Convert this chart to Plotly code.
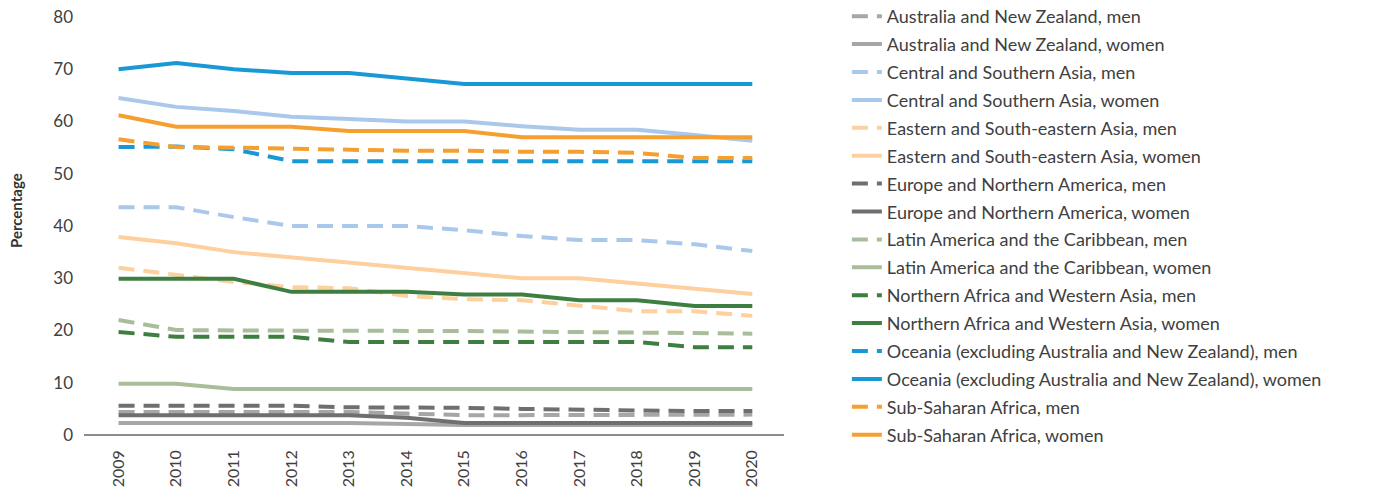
import plotly.graph_objects as go

years = list(range(2009, 2021))

# values (percentage)
aus_nz_men = [4.4, 4.4, 4.4, 4.4, 4.4, 4.1, 3.8, 3.8, 3.8, 3.8, 3.8, 3.9]
aus_nz_women = [2.3, 2.3, 2.3, 2.3, 2.3, 2.1, 1.9, 1.9, 1.9, 1.9, 1.9, 1.9]
csa_men = [43.6, 43.6, 41.7, 40.0, 40.0, 40.0, 39.2, 38.1, 37.3, 37.3, 36.5, 35.2]
csa_women = [64.5, 62.8, 62.0, 60.9, 60.5, 60.0, 60.0, 59.1, 58.4, 58.4, 57.4, 56.3]
esea_men = [32.0, 30.6, 29.3, 28.3, 28.1, 26.6, 26.0, 25.8, 24.7, 23.7, 23.7, 22.8]
esea_women = [37.9, 36.7, 35.0, 34.0, 33.1, 32.1, 31.1, 30.0, 30.0, 29.0, 28.1, 27.0]
euna_men = [5.6, 5.6, 5.6, 5.6, 5.3, 5.3, 5.2, 5.0, 4.8, 4.7, 4.6, 4.6]
euna_women = [3.8, 3.8, 3.8, 3.8, 3.8, 3.3, 2.3, 2.3, 2.3, 2.3, 2.3, 2.3]
lac_men = [22.0, 20.1, 20.0, 20.0, 20.0, 20.0, 19.9, 19.8, 19.7, 19.6, 19.5, 19.4]
lac_women = [9.8, 9.8, 8.8, 8.8, 8.8, 8.8, 8.8, 8.8, 8.8, 8.8, 8.8, 8.8]
nawa_men = [19.7, 18.8, 18.8, 18.8, 17.8, 17.8, 17.8, 17.8, 17.8, 17.8, 16.8, 16.8]
nawa_women = [29.9, 29.9, 29.9, 27.4, 27.4, 27.4, 26.9, 26.9, 25.8, 25.8, 24.7, 24.7]
oce_men = [55.1, 55.2, 54.7, 52.4, 52.4, 52.4, 52.4, 52.4, 52.4, 52.4, 52.4, 52.4]
oce_women = [70.0, 71.2, 70.0, 69.3, 69.3, 68.3, 67.2, 67.2, 67.2, 67.2, 67.2, 67.2]
ssa_men = [56.6, 55.1, 55.0, 54.8, 54.6, 54.4, 54.4, 54.2, 54.2, 54.0, 53.0, 53.0]
ssa_women = [61.2, 59.0, 59.0, 59.0, 58.2, 58.2, 58.2, 57.0, 57.0, 57.0, 57.0, 57.0]

series = [
    ("Australia and New Zealand, men", aus_nz_men, "#a6a6a6", True),
    ("Australia and New Zealand, women", aus_nz_women, "#a6a6a6", False),
    ("Central and Southern Asia, men", csa_men, "#a9c8ec", True),
    ("Central and Southern Asia, women", csa_women, "#a9c8ec", False),
    ("Eastern and South-eastern Asia, men", esea_men, "#fdd09e", True),
    ("Eastern and South-eastern Asia, women", esea_women, "#fdd09e", False),
    ("Europe and Northern America, men", euna_men, "#6f6f6f", True),
    ("Europe and Northern America, women", euna_women, "#6f6f6f", False),
    ("Latin America and the Caribbean, men", lac_men, "#a9bd9b", True),
    ("Latin America and the Caribbean, women", lac_women, "#a9bd9b", False),
    ("Northern Africa and Western Asia, men", nawa_men, "#3e7f41", True),
    ("Northern Africa and Western Asia, women", nawa_women, "#3e7f41", False),
    ("Oceania (excluding Australia and New Zealand), men", oce_men, "#1898d5", True),
    ("Oceania (excluding Australia and New Zealand), women", oce_women, "#1898d5", False),
    ("Sub-Saharan Africa, men", ssa_men, "#f69f31", True),
    ("Sub-Saharan Africa, women", ssa_women, "#f69f31", False),
]

fig = go.Figure()

for i, (name, vals, color, dashed) in enumerate(series):
    fig.add_trace(
        go.Scatter(
            x=years,
            y=vals,
            name=name,
            mode="lines",
            legendgroup=str(i),
            line=dict(color=color, width=4, dash="16px,9px" if dashed else "solid"),
        )
    )

fig.update_layout(
    width=1382,
    height=497,
    margin=dict(l=76, r=606, t=9, b=70, autoexpand=False),
    paper_bgcolor="white",
    plot_bgcolor="white",
    font=dict(family="Lato", size=17, color="#404040"),
    showlegend=True,
    legend=dict(
        xref="container",
        yref="paper",
        x=0.607,
        y=1.0455,
        xanchor="left",
        yanchor="top",
        font=dict(size=18, color="#404040"),
        itemwidth=30,
        tracegroupgap=1.5,
        maxheight=495,
        bgcolor="rgba(0,0,0,0)",
    ),
    xaxis=dict(
        range=[2008.4, 2020.55],
        tickmode="array",
        tickvals=years,
        ticktext=[str(y) for y in years],
        tickangle=-90,
        showgrid=False,
        zeroline=False,
        showline=False,
        ticks="",
        automargin=False,
        tickfont=dict(size=16, color="#404040"),
        ticklabelstandoff=11,
    ),
    yaxis=dict(
        range=[0, 80],
        tickvals=list(range(0, 81, 10)),
        showgrid=False,
        zeroline=True,
        zerolinecolor="#8c8c8c",
        zerolinewidth=1.5,
        showline=False,
        ticks="",
        automargin=False,
        ticklabeloverflow="allow",
        tickfont=dict(size=17, color="#404040"),
        ticklabelstandoff=10,
    ),
    annotations=[
        dict(
            text="<b>Percentage</b>",
            textangle=-90,
            xref="paper",
            yref="paper",
            x=-0.097,
            y=0.536,
            xanchor="center",
            yanchor="middle",
            showarrow=False,
            font=dict(size=15, color="#333333"),
        )
    ],
)

fig.write_html("out.html")
